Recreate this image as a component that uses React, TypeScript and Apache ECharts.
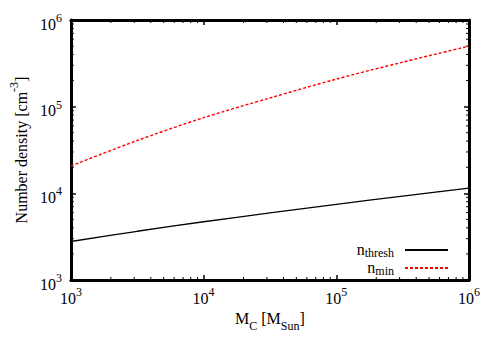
import React, { useEffect, useRef } from "react";
import * as echarts from "echarts";

// Data (log-log)
const massValues = [1000, 3162, 10000, 31623, 100000, 316228, 1000000];
const nThresh = [2780, 3650, 4700, 5940, 7450, 9300, 11500];
const nMin = [20700, 40700, 74600, 126000, 208000, 326000, 500000];
const seriesNames = ["n_thresh", "n_min"];

const axisMin = 1000;
const axisMax = 1000000;
const minorMultipliers = [2, 3, 4, 5, 6, 7, 8, 9];
const minorDecades = [1000, 10000, 100000];

const SERIF = "'Liberation Serif', 'DejaVu Serif', serif";

export default function App() {
  const ref = useRef<HTMLDivElement>(null);

  useEffect(() => {
    if (!ref.current) return;
    const chart = echarts.init(ref.current, undefined, { renderer: "svg" });

    const minorVals: number[] = [];
    minorDecades.forEach((d) => minorMultipliers.forEach((m) => minorVals.push(d * m)));
    const minorData: number[][] = [];
    minorVals.forEach((v) => {
      minorData.push([v, axisMin, 0]);
      minorData.push([axisMin, v, 1]);
    });

    const tickRich = {
      b: { fontFamily: SERIF, fontSize: 16, color: "#000", verticalAlign: "bottom", lineHeight: 20 },
      s: { fontFamily: SERIF, fontSize: 12, color: "#000", verticalAlign: "top", lineHeight: 20 },
    };
    const tickFormatter = (v: number) => `{b|10}{s|${Math.round(Math.log10(v))}}`;

    const nameRich = {
      b: { fontFamily: SERIF, fontSize: 16, color: "#000", verticalAlign: "top", lineHeight: 21 },
      s: { fontFamily: SERIF, fontSize: 12, color: "#000", verticalAlign: "bottom", lineHeight: 21 },
      u: { fontFamily: SERIF, fontSize: 12, color: "#000", verticalAlign: "top", lineHeight: 21 },
      c: { fontFamily: SERIF, fontSize: 16, color: "#000", verticalAlign: "bottom", lineHeight: 21 },
    };

    const axisLine = { show: true, lineStyle: { color: "#000", width: 3 } };
    const majorTick = { show: true, inside: true, length: 5, lineStyle: { color: "#000", width: 1.5 } };

    chart.setOption({
      animation: false,
      backgroundColor: "#fff",
      grid: { left: 62, right: 31, top: 20, bottom: 70, containLabel: false },
      legend: {
        data: seriesNames,
        orient: "vertical",
        right: 46,
        top: 236,
        align: "right",
        itemWidth: 43,
        itemHeight: 14,
        itemGap: 0,
        selectedMode: false,
        itemStyle: { opacity: 0 },
        textStyle: {
          fontFamily: SERIF,
          color: "#000",
          padding: [0, 6, 0, 0],
          rich: {
            b: { fontFamily: SERIF, fontSize: 16, color: "#000", verticalAlign: "top", lineHeight: 18 },
            s: { fontFamily: SERIF, fontSize: 12, color: "#000", verticalAlign: "bottom", lineHeight: 18 },
          },
        },
        formatter: (name: string) => {
          const [a, b] = name.split("_");
          return `{b|${a}}{s|${b}}`;
        },
      },
      xAxis: [
        {
          type: "log",
          logBase: 10,
          min: axisMin,
          max: axisMax,
          position: "bottom",
          axisLine,
          axisTick: majorTick,
          splitLine: { show: false },
          axisLabel: { fontFamily: SERIF, color: "#000", rich: tickRich, formatter: tickFormatter, margin: 6 },
          name: "{b|M}{s|C}{b| [M}{s|Sun}{b|]}",
          nameLocation: "middle",
          nameGap: 30,
          nameTextStyle: { fontFamily: SERIF, rich: nameRich },
        },
        {
          type: "log",
          logBase: 10,
          min: axisMin,
          max: axisMax,
          position: "top",
          axisLine,
          axisTick: majorTick,
          splitLine: { show: false },
          axisLabel: { show: false },
        },
      ],
      yAxis: [
        {
          type: "log",
          logBase: 10,
          min: axisMin,
          max: axisMax,
          position: "left",
          axisLine,
          axisTick: majorTick,
          splitLine: { show: false },
          axisLabel: {
            fontFamily: SERIF,
            color: "#000",
            rich: tickRich,
            formatter: tickFormatter,
            margin: 9,
            padding: [4, 0, 0, 0],
          },
          name: "{c|Number density [cm}{u|-3}{c|]}",
          nameLocation: "middle",
          nameRotate: 90,
          nameGap: 38,
          nameTextStyle: { fontFamily: SERIF, rich: nameRich },
        },
        {
          type: "log",
          logBase: 10,
          min: axisMin,
          max: axisMax,
          position: "right",
          axisLine,
          axisTick: majorTick,
          splitLine: { show: false },
          axisLabel: { show: false },
        },
      ],
      series: [
        {
          name: seriesNames[0],
          type: "line",
          data: massValues.map((x, i) => [x, nThresh[i]]),
          symbol: "none",
          smooth: 0.3,
          lineStyle: { color: "#000", width: 1.3, type: "solid" },
          itemStyle: { color: "#000" },
        },
        {
          name: seriesNames[1],
          type: "line",
          data: massValues.map((x, i) => [x, nMin[i]]),
          symbol: "none",
          smooth: 0.3,
          lineStyle: { color: "#ff0000", width: 1.4, type: [3, 2] },
          itemStyle: { color: "#ff0000" },
        },
        {
          type: "custom",
          silent: true,
          clip: false,
          z: 10,
          data: minorData,
          renderItem: (params: any, api: any) => {
            const kind = api.value(2);
            const st = { stroke: "#000", lineWidth: 1 };
            if (kind === 0) {
              const v = api.value(0);
              const b = api.coord([v, axisMin]);
              const t = api.coord([v, axisMax]);
              return {
                type: "group",
                children: [
                  { type: "line", shape: { x1: b[0], y1: b[1], x2: b[0], y2: b[1] - 3 }, style: st },
                  { type: "line", shape: { x1: t[0], y1: t[1], x2: t[0], y2: t[1] + 3 }, style: st },
                ],
              };
            }
            const v = api.value(1);
            const l = api.coord([axisMin, v]);
            const r = api.coord([axisMax, v]);
            return {
              type: "group",
              children: [
                { type: "line", shape: { x1: l[0], y1: l[1], x2: l[0] + 3, y2: l[1] }, style: st },
                { type: "line", shape: { x1: r[0], y1: r[1], x2: r[0] - 3, y2: r[1] }, style: st },
              ],
            };
          },
        },
      ],
    });

    return () => chart.dispose();
  }, []);

  return (
    <div
      ref={ref}
      style={{ position: "fixed", left: 0, top: 0, width: 500, height: 350, background: "#fff" }}
    />
  );
}
